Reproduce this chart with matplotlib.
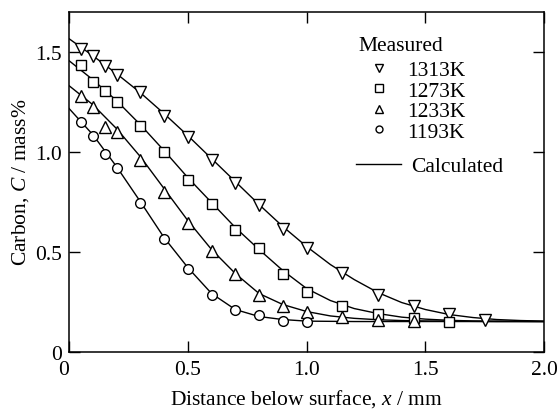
import matplotlib
matplotlib.use("Agg")
import matplotlib.pyplot as plt
from matplotlib.lines import Line2D

plt.rcParams['font.family'] = ['Liberation Serif', 'DejaVu Serif']
plt.rcParams['mathtext.fontset'] = 'custom'
plt.rcParams['mathtext.it'] = 'Liberation Serif:italic'
plt.rcParams['mathtext.rm'] = 'Liberation Serif'

# Measured data (distance in mm, carbon in mass%)
x_1313 = [0.05, 0.1, 0.15, 0.2, 0.3, 0.4, 0.5, 0.6, 0.7, 0.8, 0.9, 1.0, 1.15, 1.3, 1.45, 1.6, 1.75]
c_1313 = [1.515, 1.48, 1.43, 1.385, 1.30, 1.18, 1.075, 0.96, 0.845, 0.735, 0.615, 0.52, 0.395, 0.285, 0.23, 0.19, 0.16]

x_1273 = [0.05, 0.1, 0.15, 0.2, 0.3, 0.4, 0.5, 0.6, 0.7, 0.8, 0.9, 1.0, 1.15, 1.3, 1.45, 1.6]
c_1273 = [1.435, 1.35, 1.305, 1.25, 1.13, 1.00, 0.86, 0.74, 0.61, 0.52, 0.39, 0.30, 0.227, 0.19, 0.168, 0.147]

x_1233 = [0.05, 0.1, 0.15, 0.2, 0.3, 0.4, 0.5, 0.6, 0.7, 0.8, 0.9, 1.0, 1.15, 1.3, 1.45]
c_1233 = [1.28, 1.225, 1.125, 1.10, 0.96, 0.80, 0.645, 0.505, 0.39, 0.285, 0.23, 0.198, 0.172, 0.157, 0.155]

x_1193 = [0.05, 0.1, 0.15, 0.2, 0.3, 0.4, 0.5, 0.6, 0.7, 0.8, 0.9, 1.0]
c_1193 = [1.15, 1.08, 0.99, 0.92, 0.745, 0.565, 0.415, 0.285, 0.207, 0.185, 0.155, 0.148]

# Calculated profiles
x_calc = [0.0, 0.1, 0.2, 0.3, 0.4, 0.5, 0.6, 0.7, 0.8, 0.9, 1.0,
          1.1, 1.2, 1.3, 1.4, 1.5, 1.6, 1.7, 1.8, 1.9, 2.0]
calc_1313 = [1.565, 1.48, 1.39, 1.295, 1.19, 1.08, 0.965, 0.85, 0.735, 0.625, 0.525,
             0.435, 0.36, 0.295, 0.245, 0.21, 0.185, 0.17, 0.16, 0.155, 0.152]
calc_1273 = [1.455, 1.36, 1.255, 1.135, 1.005, 0.87, 0.745, 0.62, 0.51, 0.405, 0.315,
             0.255, 0.215, 0.19, 0.172, 0.162, 0.156, 0.153, 0.152, 0.151, 0.15]
calc_1233 = [1.33, 1.235, 1.115, 0.975, 0.815, 0.655, 0.51, 0.39, 0.29, 0.235, 0.2,
             0.178, 0.166, 0.159, 0.155, 0.153, 0.152, 0.151, 0.15, 0.15, 0.15]
calc_1193 = [1.216, 1.085, 0.925, 0.75, 0.57, 0.42, 0.29, 0.21, 0.175, 0.16, 0.152,
             0.151, 0.15, 0.15, 0.15, 0.15, 0.15, 0.15, 0.15, 0.15, 0.15]

labels = ['1313K', '1273K', '1233K', '1193K']
markers = ['v', 's', '^', 'o']
msizes = [8.0, 7.0, 8.0, 7.0]
leg_msizes = [5.5, 5.5, 5.5, 5.0]

xticks = [0, 0.5, 1.0, 1.5, 2.0]
xticklabels = ['0', '0.5', '1.0', '1.5', '2.0']
yticks = [0, 0.5, 1.0, 1.5]
yticklabels = ['0', '0.5', '1.0', '1.5']

FS = 15.5

fig = plt.figure(figsize=(5.58, 4.10), dpi=100)
ax = fig.add_axes([0.1237, 0.1402, 0.8517, 0.8288])

meas = [(x_1313, c_1313), (x_1273, c_1273), (x_1233, c_1233), (x_1193, c_1193)]
calcs = [calc_1313, calc_1273, calc_1233, calc_1193]

for cy in calcs:
    ax.plot(x_calc, cy, color='black', lw=1.0, zorder=2)

for (mx, my), m, ms in zip(meas, markers, msizes):
    ax.plot(mx, my, linestyle='none', marker=m, markersize=ms, markerfacecolor='white',
            markeredgecolor='black', markeredgewidth=1.0, zorder=3, clip_on=False)

ax.set_xlim(0, 2.0)
ax.set_ylim(0, 1.7)
ax.set_xticks(xticks)
ax.set_xticklabels(xticklabels)
ax.set_yticks(yticks)
ax.set_yticklabels(yticklabels)
ax.tick_params(direction='in', length=8, width=1.0, top=True, right=True,
               labelsize=FS)
ax.tick_params(axis='x', pad=6)
ax.tick_params(axis='y', pad=5)
xl = ax.get_xticklabels()
xl[0].set_horizontalalignment('right')
for s in ax.spines.values():
    s.set_linewidth(1.1)

ax.set_xlabel(r'Distance below surface, $x$ / mm', fontsize=FS, labelpad=6)
ax.set_ylabel(r'Carbon, $C$ / mass%', fontsize=FS, labelpad=3)

ax.text(0.610, 0.900, 'Measured', transform=ax.transAxes, fontsize=FS,
        ha='left', va='center')
handles = [Line2D([], [], linestyle='none', marker=m, markersize=s, markerfacecolor='white',
                  markeredgecolor='black', markeredgewidth=1.0)
           for m, s in zip(markers, leg_msizes)]
leg1 = ax.legend(handles, labels, loc='upper left',
                 bbox_to_anchor=(0.610, 0.857), frameon=False, fontsize=FS,
                 handlelength=1.87, handletextpad=0.37,
                 labelspacing=0.02, borderpad=0, borderaxespad=0)
ax.add_artist(leg1)
calc_handle = Line2D([], [], color='black', lw=1.0)
leg2 = ax.legend([calc_handle], ['Calculated'], loc='upper left',
                 bbox_to_anchor=(0.604, 0.575), frameon=False, fontsize=FS,
                 handlelength=2.1, handletextpad=0.47, borderpad=0, borderaxespad=0)

fig.savefig('out.png', dpi=100)
